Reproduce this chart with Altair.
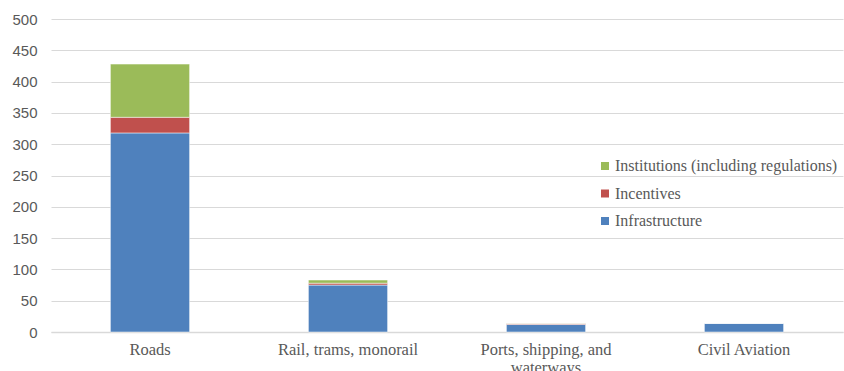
import altair as alt
import pandas as pd

categories = ["Roads", "Rail, trams, monorail", "Ports, shipping, and waterways", "Civil Aviation"]
infrastructure = [318, 75, 12, 14]
incentives = [25, 3, 1.5, 0]
institutions = [85, 5, 0.5, 0]

series = ["Institutions (including regulations)", "Incentives", "Infrastructure"]
colors = ["#9bbb59", "#c0504d", "#4f81bd"]
stack_order = {"Infrastructure": 0, "Incentives": 1, "Institutions (including regulations)": 2}

rows = []
for i, c in enumerate(categories):
    for s, vals in (("Infrastructure", infrastructure), ("Incentives", incentives),
                    ("Institutions (including regulations)", institutions)):
        rows.append({"category": c, "series": s, "value": vals[i], "ord": stack_order[s]})
df = pd.DataFrame(rows)

serif = "Liberation Serif"
sans = "Liberation Sans"

chart = alt.Chart(df).mark_bar(stroke="white", strokeWidth=0.5).encode(
    x=alt.X("category:N", sort=categories,
            scale=alt.Scale(paddingInner=0.6, paddingOuter=0.3),
            axis=alt.Axis(title=None, labelAngle=0, ticks=False, domainColor="#d9d9d9",
                          domainWidth=1.5, labelFont=serif, labelFontSize=16.5,
                          labelColor="#595959", labelPadding=9, labelLimit=0,
                          labelExpr="datum.value == 'Ports, shipping, and waterways' ? ['Ports, shipping, and', 'waterways'] : datum.value")),
    y=alt.Y("value:Q", stack="zero",
            scale=alt.Scale(domain=[0, 500]),
            axis=alt.Axis(title=None, values=list(range(0, 501, 50)), domain=False, ticks=False,
                          gridColor="#d9d9d9", gridWidth=1, labelFont=sans, labelFontSize=15,
                          labelColor="#595959", labelPadding=14)),
    color=alt.Color("series:N", scale=alt.Scale(domain=series, range=colors),
                    legend=alt.Legend(title=None, orient="none", legendX=546, legendY=139,
                                      symbolType="square", symbolSize=64, symbolStrokeWidth=0,
                                      labelFont=serif, labelFontSize=16, labelColor="#595959",
                                      rowPadding=11.5, labelOffset=2, labelLimit=0)),
    order=alt.Order("ord:Q"),
).properties(
    width=792, height=313,
    padding={"left": 51, "top": 19, "right": 1, "bottom": 39},
    autosize=alt.AutoSizeParams(type="none"),
).configure_view(stroke=None)

chart.save("out.html", embed_options={"renderer": "svg", "actions": False})
